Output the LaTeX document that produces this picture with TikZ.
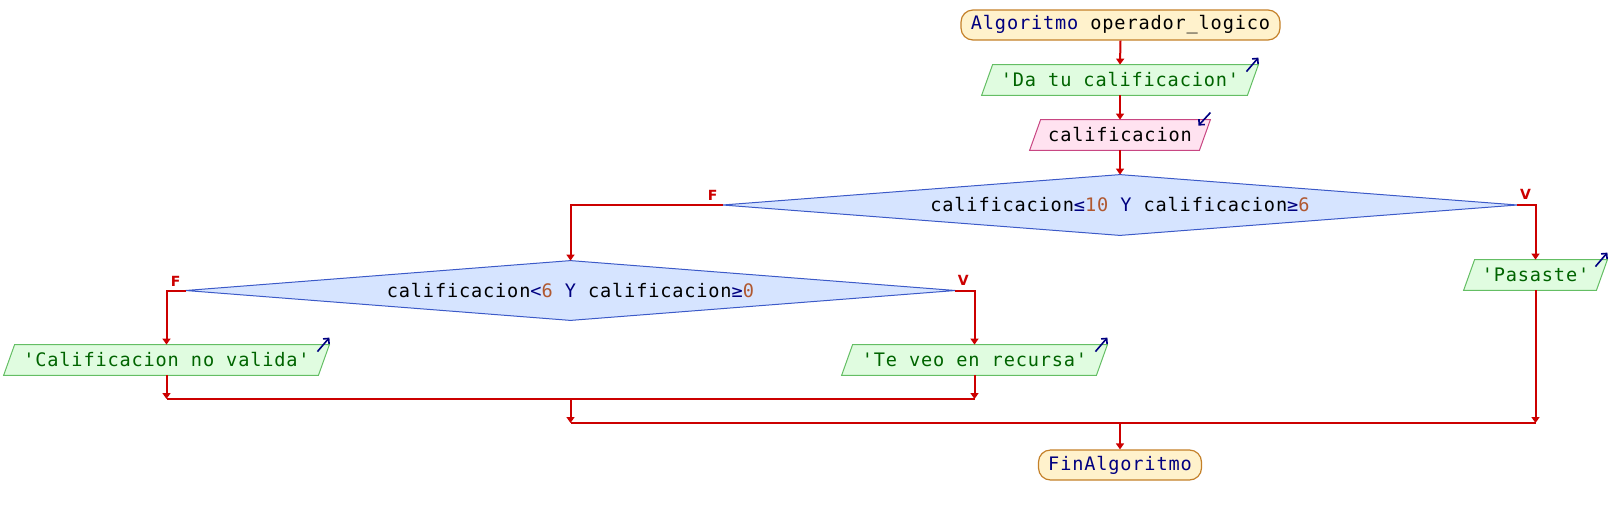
\documentclass[tikz,border=0pt]{standalone}
\usepackage{fontspec}
\setmonofont{DejaVu Sans Mono}[LetterSpace=4.5]
\setsansfont{DejaVu Sans}
\usetikzlibrary{arrows.meta,calc}
\pgfdeclarelayer{background}
\pgfsetlayers{background,main}
\definecolor{flow}{RGB}{204,0,0}
\definecolor{navy}{RGB}{0,0,128}
\definecolor{num}{RGB}{176,88,48}
\definecolor{termfill}{RGB}{255,242,204}
\definecolor{termdraw}{RGB}{196,128,40}
\definecolor{outfill}{RGB}{224,252,224}
\definecolor{outdraw}{RGB}{100,190,100}
\definecolor{outtext}{RGB}{0,100,0}
\definecolor{infill}{RGB}{255,226,240}
\definecolor{indraw}{RGB}{200,70,130}
\definecolor{decfill}{RGB}{214,228,255}
\definecolor{decdraw}{RGB}{60,90,200}
\begin{document}
\begin{tikzpicture}[x=0.5pt,y=-0.5pt,
  every node/.style={font=\ttfamily\fontsize{9.3}{12}\selectfont, inner sep=0pt},
  term/.style={draw=termdraw, fill=termfill, line width=0.6pt, rounded corners=6pt, minimum height=15pt},
  io/.style={minimum height=15pt},
  dec/.style={minimum height=30pt},
  outshape/.style={draw=outdraw, fill=outfill, line width=0.5pt},
  inshape/.style={draw=indraw, fill=infill, line width=0.5pt},
  decshape/.style={draw=decdraw, fill=decfill, line width=0.5pt},
  flowline/.style={draw=flow, line width=1pt},
  flowarrow/.style={flowline, -{Triangle[width=4pt,length=3pt]}},
  lbl/.style={font=\sffamily\bfseries\fontsize{7}{8}\selectfont, text=flow},
  icon/.style={draw=navy, line width=0.8pt, -{Straight Barb[length=2pt,width=4pt]}},
]
\useasboundingbox (0,0) rectangle (1612,515);

\node[term, minimum width=159.5pt] (start) at (1120.5,25) {\textcolor{navy}{Algoritmo} operador\_logico};
\node[io, minimum width=138pt] (out1) at (1120,80) {\textcolor{outtext}{'Da tu calificacion'}};
\node[io, minimum width=90pt] (in1) at (1120,135) {calificacion};
\node[dec, minimum width=397pt] (d1) at (1120,205) {calificacion\textcolor{navy}{≤}\textcolor{num}{10} \textcolor{navy}{Y} calificacion\textcolor{navy}{≥}\textcolor{num}{6}};
\node[dec, minimum width=384.5pt, minimum height=29.5pt] (d2) at (570.5,290.5) {calificacion\textcolor{navy}{<}\textcolor{num}{6} \textcolor{navy}{Y} calificacion\textcolor{navy}{≥}\textcolor{num}{0}};
\node[io, minimum width=71.5pt] (pas) at (1535.5,275) {\textcolor{outtext}{'Pasaste'}};
\node[io, minimum width=162.5pt] (ov) at (166.5,360) {\textcolor{outtext}{'Calificacion no valida'}};
\node[io, minimum width=132.5pt] (tv) at (974.5,360) {\textcolor{outtext}{'Te veo en recursa'}};
\node[term, minimum width=81.5pt] (fin) at (1120,465) {\textcolor{navy}{FinAlgoritmo}};

\begin{pgfonlayer}{background}
  \foreach \n in {out1,pas,ov,tv}{
    \path[outshape] ([xshift=5.5pt]\n.north west) -- (\n.north east) -- ([xshift=-5.5pt]\n.south east) -- (\n.south west) -- cycle;
  }
  \path[inshape] ([xshift=5.5pt]in1.north west) -- (in1.north east) -- ([xshift=-5.5pt]in1.south east) -- (in1.south west) -- cycle;
  \path[decshape] (d1.west) -- (d1.north) -- (d1.east) -- (d1.south) -- cycle;
  \path[decshape] (d2.west) -- (d2.north) -- (d2.east) -- (d2.south) -- cycle;
\end{pgfonlayer}

% icons
\foreach \n in {out1,pas,ov,tv}{
  \draw[icon] ([xshift=-6pt,yshift=-3.5pt]\n.north east) -- ([yshift=3.5pt]\n.north east);
}
\draw[icon] ([yshift=3.5pt]in1.north east) -- ([xshift=-6pt,yshift=-3pt]in1.north east);

% join coordinates
\coordinate (j1l) at (166.5,399);
\coordinate (j1r) at (974.5,399);
\coordinate (j1m) at (d2.south |- j1l);
\coordinate (j2l) at (570.5,423);
\coordinate (j2r) at (1535.5,423);
\coordinate (j2m) at (fin.north |- j2l);

% connectors
\draw[flowarrow] (start.south) -- (out1.north);
\draw[flowarrow] (out1.south) -- (in1.north);
\draw[flowarrow] (in1.south) -- (d1.north);
\draw[flowarrow] (d1.west) -| (d2.north);
\draw[flowarrow] (d1.east) -| (pas.north);
\draw[flowarrow] (d2.west) -| (ov.north);
\draw[flowarrow] (d2.east) -| (tv.north);
\draw[flowarrow] (ov.south) -- (j1l);
\draw[flowarrow] (tv.south) -- (j1r);
\draw[flowline] (j1l) -- (j1r);
\draw[flowarrow] (j1m) -- (j2l);
\draw[flowarrow] (pas.south) -- (j2r);
\draw[flowline] (j2l) -- (j2r);
\draw[flowarrow] (j2m) -- (fin.north);

% labels
\node[lbl, anchor=south] (f1) at ([xshift=-5pt,yshift=2pt]d1.west) {F};
\node[lbl, anchor=south] (v1) at ([xshift=4pt,yshift=2.5pt]d1.east) {V};
\node[lbl, anchor=south] (f2) at ([xshift=-5pt,yshift=2pt]d2.west) {F};
\node[lbl, anchor=south] (v2) at ([xshift=4pt,yshift=2.5pt]d2.east) {V};
\end{tikzpicture}
\end{document}
